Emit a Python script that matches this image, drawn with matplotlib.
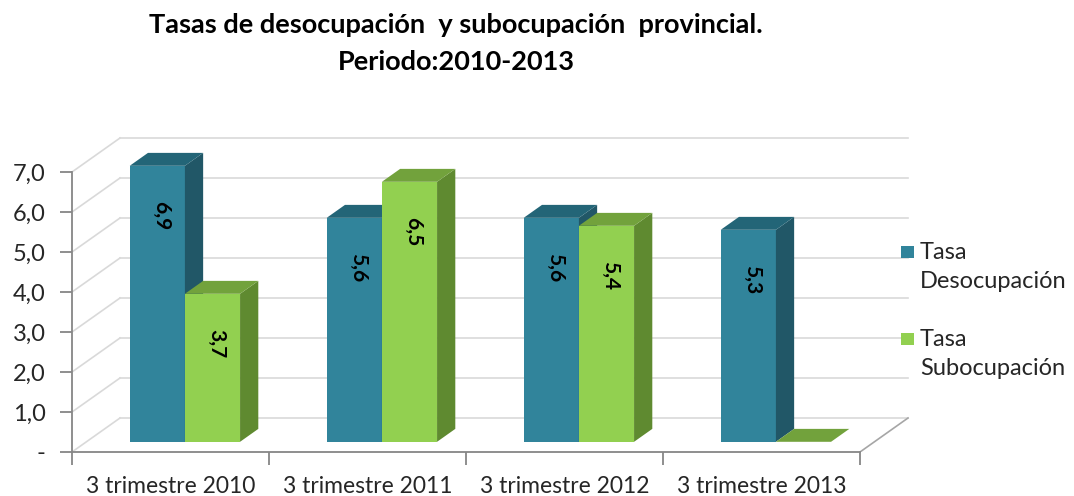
import matplotlib.pyplot as plt
from matplotlib.patches import Polygon, Rectangle

plt.rcParams['font.family'] = ['Lato', 'DejaVu Sans']

# data
categories = ['3 trimestre 2010', '3 trimestre 2011', '3 trimestre 2012', '3 trimestre 2013']
desocupacion = [6.9, 5.6, 5.6, 5.3]
subocupacion = [3.7, 6.5, 5.4, 0.0]
series_names = ['Tasa\nDesocupación', 'Tasa\nSubocupación']
yticks = [0, 1, 2, 3, 4, 5, 6, 7]
ytick_labels = ['-', '1,0', '2,0', '3,0', '4,0', '5,0', '6,0', '7,0']

# colours: front, top, side
blue = ('#31849b', '#236577', '#215767')
green = ('#92d050', '#72a23c', '#5f8a30')

# fake 3d: depth offset of the floor in data units
DX = 48 / 197.0   # category units
DY = 34 / 40.0    # value units
D0, D1 = 0.30, 0.68   # bar depth (fraction of floor depth)
BW = 0.28             # bar width in category units

fig = plt.figure(figsize=(10.74, 4.96), dpi=100)
ax = fig.add_axes([72 / 1074, 44 / 496, 848 / 1074, 327 / 496])
ax.set_xlim(-0.5, -0.5 + 848 / 197.0)
ax.set_ylim(0, 327 / 40.0)

grid_c = '#d9d9d9'
x_left, x_right = -0.5, 3.5
# walls / gridlines
for v in yticks:
    ax.plot([x_left, x_left + DX], [v, v + DY], color=grid_c, lw=1.2, zorder=1)
    ax.plot([x_left + DX, x_right + DX], [v + DY, v + DY], color=grid_c, lw=1.2, zorder=1)
ax.plot([x_right, x_right + DX], [0, DY], color='#a6a6a6', lw=1.2, zorder=1)


def draw_bar(x0, h, cols):
    front, top, side = cols
    x1 = x0 + BW
    fx0, fx1 = x0 + D0 * DX, x1 + D0 * DX
    fy = D0 * DY
    bx0, bx1 = x0 + D1 * DX, x1 + D1 * DX
    by = D1 * DY
    if h > 0:
        ax.add_patch(Polygon([(fx0, fy), (fx1, fy), (fx1, fy + h), (fx0, fy + h)],
                             closed=True, fc=front, ec='none', zorder=3))
        ax.add_patch(Polygon([(fx1, fy), (bx1, by), (bx1, by + h), (fx1, fy + h)],
                             closed=True, fc=side, ec='none', zorder=3))
    ax.add_patch(Polygon([(fx0, fy + h), (fx1, fy + h), (bx1, by + h), (bx0, by + h)],
                         closed=True, fc=top, ec='none', zorder=3))
    return (fx0 + fx1) / 2, fy + h


for i in range(len(categories)):
    for s, (vals, cols) in enumerate([(desocupacion, blue), (subocupacion, green)]):
        v = vals[i]
        cx, ty = draw_bar(i - BW + s * BW, v, cols)
        if v > 0:
            ax.text(cx + 0.02, ty - 1.25, ('%.1f' % v).replace('.', ','), rotation=270,
                    ha='center', va='center', fontsize=15, fontweight='bold', color='black', zorder=4)

# axes
ax_c = '#868686'
for sp in ['top', 'right']:
    ax.spines[sp].set_visible(False)
ax.spines['left'].set_bounds(0, 7)
ax.spines['bottom'].set_bounds(x_left, x_right)
ax.spines['left'].set_color(ax_c)
ax.spines['bottom'].set_color(ax_c)
ax.spines['left'].set_linewidth(1.3)
ax.spines['bottom'].set_linewidth(1.3)
ax.set_yticks(yticks)
ax.set_yticklabels(ytick_labels, fontsize=17, color='#262626')
ax.set_xticks([x_left + k for k in range(len(categories) + 1)])
ax.set_xticklabels([])
ax.set_xticks(range(len(categories)), minor=True)
ax.set_xticklabels(categories, minor=True, fontsize=16.5, color='#262626')
ax.tick_params(axis='both', which='major', color=ax_c, length=9, width=1.3)
ax.tick_params(axis='x', which='minor', length=0, pad=17)
ax.tick_params(axis='y', pad=10)
ax.set_facecolor('none')

fig.text(0.4246, 1 - 25 / 496, 'Tasas de desocupación  y subocupación  provincial.',
         ha='center', va='center', fontsize=19.5, fontweight='bold')
fig.text(0.4246, 1 - 62 / 496, 'Periodo:2010-2013',
         ha='center', va='center', fontsize=19.5, fontweight='bold')

# legend (square aligned with first text line, like the original)
leg_y = [248, 335]
for name, cols, yp in zip(series_names, [blue, green], leg_y):
    fig.patches.append(Rectangle((901 / 1074, 1 - (yp + 10) / 496), 13 / 1074, 12 / 496,
                                 transform=fig.transFigure, fc=cols[0], ec='none'))
    fig.text(920 / 1074, 1 - (yp - 6) / 496, name, ha='left', va='top', fontsize=17,
             color='#262626', linespacing=1.45)

fig.savefig('out.png', dpi=100)
